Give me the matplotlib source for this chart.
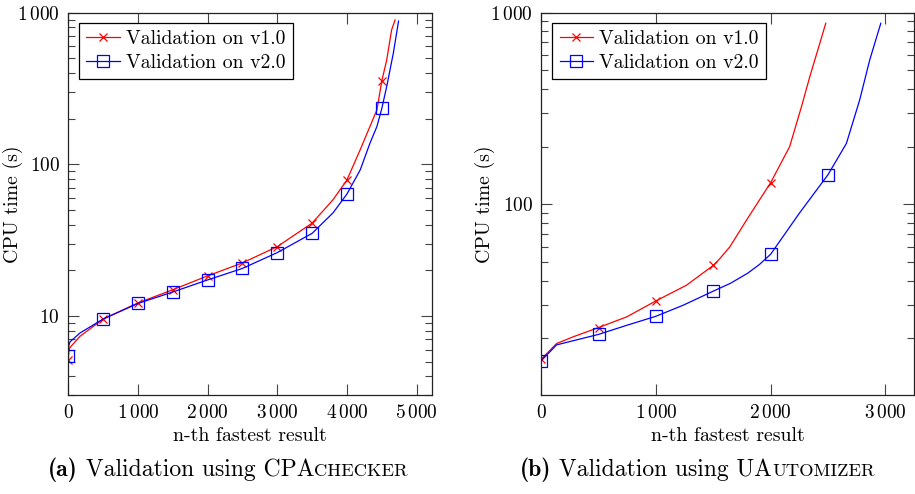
import matplotlib
matplotlib.use('Agg')
import matplotlib.pyplot as plt
from matplotlib.text import Annotation
from matplotlib.ticker import FixedLocator, FixedFormatter, NullFormatter, NullLocator

plt.rcParams['mathtext.fontset'] = 'cm'
plt.rcParams['font.family'] = 'cmr10'
plt.rcParams['axes.formatter.use_mathtext'] = True

# ---------------- data ----------------
series_labels = ['Validation on v1.0', 'Validation on v2.0']

# (a) CPAchecker
a_v1_n = [0, 8, 24, 168, 500, 1000, 1500, 2000, 2500, 3000, 3500, 3800, 4000, 4190, 4330, 4430, 4500, 4570, 4640, 4690]
a_v1_t = [5.1, 5.9, 6.2, 7.35, 9.55, 12.2, 14.9, 18.4, 22.4, 28.7, 41, 58.5, 79, 125, 178, 229, 356, 488, 769, 896]
a_v2_n = [0, 8, 24, 168, 500, 1000, 1500, 2000, 2500, 3000, 3500, 3800, 4000, 4190, 4330, 4430, 4500, 4570, 4665, 4740]
a_v2_t = [5.45, 6.4, 6.75, 7.73, 9.55, 12.1, 14.4, 17.3, 20.6, 26.2, 35.1, 47.9, 63.8, 92, 138, 178, 234, 326, 541, 880]

# (b) UAutomizer
b_v1_n = [0, 133, 279, 500, 744, 1000, 1266, 1500, 1557, 1644, 1789, 2000, 2165, 2268, 2341, 2428, 2480]
b_v1_t = [15.6, 18.8, 20.4, 22.8, 25.9, 31.4, 37.9, 48.1, 52.2, 60.1, 82.8, 130, 200, 323, 464, 692, 881]
b_v2_n = [0, 133, 500, 744, 1000, 1237, 1500, 1650, 1800, 1900, 2000, 2250, 2500, 2660, 2776, 2863, 2960]
b_v2_t = [15.3, 18.5, 21.0, 23.4, 26.1, 29.8, 35.3, 38.8, 43.8, 48.5, 55.0, 90, 143, 208, 351, 566, 881]

a_xticks = [0, 1000, 2000, 3000, 4000, 5000]
a_xticklabels = [r'$0$', r'$1\,000$', r'$2\,000$', r'$3\,000$', r'$4\,000$', r'$5\,000$']
b_xticks = [0, 1000, 2000, 3000]
b_xticklabels = [r'$0$', r'$1\,000$', r'$2\,000$', r'$3\,000$']
yticks = [10, 100, 1000]
yticklabels = [r'$10$', r'$100$', r'$1\,000$']

xlabel = 'n-th fastest result'
ylabel = 'CPU time (s)'

# ---------------- figure ----------------
W, H = 915, 494
fig = plt.figure(figsize=(W / 100, H / 100), dpi=100)


def frac_axes(x0, x1, ytop, ybot):
    return fig.add_axes([x0 / W, 1 - ybot / H, (x1 - x0) / W, (ybot - ytop) / H])


ax1 = frac_axes(68.3, 432.0, 12.7, 395.3)
ax2 = frac_axes(541.3, 913.5, 12.7, 395.3)


def marks(ns):
    return [i for i, v in enumerate(ns) if v % 500 == 0]


def style(ax, v1n, v1t, v2n, v2t, xticks, xtl, xlim, ylim):
    ax.set_yscale('log')
    ax.plot(v1n, v1t, color='red', lw=0.9, marker='x', ms=6, mew=0.9,
            markevery=marks(v1n), label=series_labels[0])
    ax.plot(v2n, v2t, color='blue', lw=0.9, marker='s', ms=8, mew=0.9, mfc='none',
            markevery=marks(v2n), label=series_labels[1])
    ax.set_xlim(*xlim)
    ax.set_ylim(*ylim)
    ax.xaxis.set_major_locator(FixedLocator(xticks))
    ax.xaxis.set_major_formatter(FixedFormatter(xtl))
    ax.xaxis.set_minor_locator(NullLocator())
    ax.yaxis.set_major_locator(FixedLocator(yticks))
    ax.yaxis.set_major_formatter(FixedFormatter(yticklabels))
    minors = [m * d for d in (1, 10, 100) for m in range(2, 10)]
    ax.yaxis.set_minor_locator(FixedLocator(minors))
    ax.yaxis.set_minor_formatter(NullFormatter())
    ax.tick_params(which='both', direction='in', top=True, right=True,
                   color='#444444', width=0.8, labelsize=13.9)
    ax.tick_params(which='major', length=8, pad=6)
    ax.tick_params(which='minor', length=5)
    for s in ax.spines.values():
        s.set_linewidth(0.9)
        s.set_color('#222222')
    ax.set_xlabel(xlabel, fontsize=14.3)
    ax.set_ylabel(ylabel, fontsize=14.3)
    ax.xaxis.set_label_coords(0.5, -0.082)
    ax.yaxis.set_label_coords(-0.125, 0.5)
    leg = ax.legend(loc='upper left', bbox_to_anchor=(0.029, 0.974), borderaxespad=0,
                    fontsize=14.2, frameon=True, fancybox=False, edgecolor='black',
                    framealpha=1, handlelength=1.7, handletextpad=0.3,
                    borderpad=0.38, labelspacing=0.28)
    leg.get_frame().set_linewidth(0.9)


style(ax1, a_v1_n, a_v1_t, a_v2_n, a_v2_t, a_xticks, a_xticklabels, (0, 5220), (3.0, 1000))
style(ax2, b_v1_n, b_v1_t, b_v2_n, b_v2_t, b_xticks, b_xticklabels, (0, 3245), (10.1, 1000))


def caption(x_px, tag, big, small):
    y = 1 - 476 / H
    t1 = fig.text(x_px / W, y, '(' + tag + ')', fontsize=17, va='baseline', family='cmb10')
    t2 = fig.add_artist(Annotation(
        ' Validation using ' + big, xy=(1, y), xycoords=(t1, 'figure fraction'),
        fontsize=17, va='baseline', ha='left'))
    fig.add_artist(Annotation(
        small, xy=(1, y), xycoords=(t2, 'figure fraction'),
        fontsize=13.3, va='baseline', ha='left'))


caption(48, 'a', 'CPA', 'CHECKER')
caption(520, 'b', 'UA', 'UTOMIZER')

fig.savefig('out.png', dpi=100)
